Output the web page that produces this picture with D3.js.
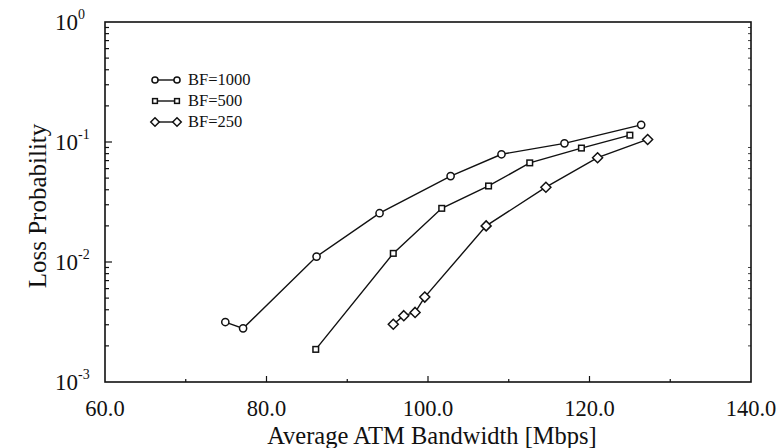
<!DOCTYPE html>
<html><head><meta charset="utf-8">
<script src="https://cdn.jsdelivr.net/npm/d3@7"></script>
<style>body{margin:0;background:#fff}svg{display:block}text{font-family:"Liberation Serif","DejaVu Serif",serif;fill:#111}</style>
</head><body><svg id="c" width="778" height="448"></svg>
<script>
const seriesNames = ["BF=1000","BF=500","BF=250"];
const bf1000X = [74.9, 77.1, 86.2, 94.0, 102.8, 109.1, 116.9, 126.4];
const bf1000Y = [0.00316, 0.0028, 0.0111, 0.0255, 0.052, 0.079, 0.0975, 0.139];
const bf500X = [86.1, 95.7, 101.7, 107.5, 112.6, 119.0, 125.0];
const bf500Y = [0.00187, 0.0118, 0.028, 0.043, 0.067, 0.089, 0.114];
const bf250X = [95.7, 97.0, 98.4, 99.6, 107.2, 114.6, 121.0, 127.2];
const bf250Y = [0.00303, 0.00357, 0.0038, 0.0051, 0.020, 0.042, 0.074, 0.105];
const xTicks = [60, 80, 100, 120, 140];
const xMinor = [70, 90, 110, 130];
const yExps = [0, -1, -2, -3];

const svg = d3.select("#c");
const L=105, R=751, T=22, B=382;
const x = d3.scaleLinear().domain([60,140]).range([L,R]);
const y = d3.scaleLog().domain([1e-3,1]).range([B,T]);

svg.append("rect").attr("x",L).attr("y",T).attr("width",R-L).attr("height",B-T)
  .attr("fill","none").attr("stroke","#111").attr("stroke-width",1.6);

const g = svg.append("g").attr("stroke","#111").attr("stroke-width",1.2);
xTicks.slice(1,-1).forEach(v=>g.append("line").attr("x1",x(v)).attr("x2",x(v)).attr("y1",B).attr("y2",B-6));
xMinor.forEach(v=>g.append("line").attr("x1",x(v)).attr("x2",x(v)).attr("y1",B).attr("y2",B-3));
yExps.forEach(e=>{
  if(e<0 && e>-3) g.append("line").attr("x1",L).attr("x2",L+7).attr("y1",y(Math.pow(10,e))).attr("y2",y(Math.pow(10,e)));
  if(e>-3){ for(let k=2;k<=9;k++){const v=k*Math.pow(10,e-1);
    g.append("line").attr("x1",L).attr("x2",L+4).attr("y1",y(v)).attr("y2",y(v));
    g.append("line").attr("x1",R).attr("x2",R-3).attr("y1",y(v)).attr("y2",y(v)).attr("stroke-width",0.8);}}
});

xTicks.forEach(v=>svg.append("text").attr("x",x(v)).attr("y",416).attr("text-anchor","middle")
  .attr("font-size",22.5).text(v.toFixed(1)));
yExps.forEach(e=>{
  const t=svg.append("text").attr("x",55).attr("y",y(Math.pow(10,e))+8).attr("font-size",23);
  t.append("tspan").text("10");
  t.append("tspan").attr("dy",-11).attr("font-size",14).text(e);
});
svg.append("text").attr("x",432).attr("y",444).attr("text-anchor","middle").attr("font-size",24.5)
  .text("Average ATM Bandwidth [Mbps]");
svg.append("text").attr("transform",`translate(46,206) rotate(-90)`).attr("text-anchor","middle")
  .attr("font-size",25).text("Loss Probability");

const series=[
  {name:seriesNames[0],xs:bf1000X,ys:bf1000Y,sym:"circle"},
  {name:seriesNames[1],xs:bf500X,ys:bf500Y,sym:"square"},
  {name:seriesNames[2],xs:bf250X,ys:bf250Y,sym:"diamond"}];
function marker(sel,sym,cx,cy,sc){
  sc=sc||1;
  if(sym==="circle") sel.append("circle").attr("cx",cx).attr("cy",cy).attr("r",3.6*sc)
    .attr("fill","#fff").attr("stroke","#111").attr("stroke-width",1.5);
  else if(sym==="square") sel.append("rect").attr("x",cx-2.8*sc).attr("y",cy-2.8*sc).attr("width",5.6*sc).attr("height",5.6*sc)
    .attr("fill","#fff").attr("stroke","#111").attr("stroke-width",1.5);
  else { const r=5*sc; sel.append("path").attr("d",`M${cx},${cy-r}L${cx+r},${cy}L${cx},${cy+r}L${cx-r},${cy}Z`)
    .attr("fill","#fff").attr("stroke","#111").attr("stroke-width",1.5);}
}
const line=d3.line().x(d=>x(d[0])).y(d=>y(d[1]));
series.forEach(s=>{
  const pts=s.xs.map((v,i)=>[v,s.ys[i]]);
  svg.append("path").attr("d",line(pts)).attr("fill","none").attr("stroke","#111").attr("stroke-width",1.4);
  const mg=svg.append("g");
  pts.forEach(p=>marker(mg,s.sym,x(p[0]),y(p[1])));
});
series.forEach((s,i)=>{
  const ly=80+i*21;
  svg.append("line").attr("x1",155).attr("x2",177).attr("y1",ly).attr("y2",ly).attr("stroke","#111").attr("stroke-width",1.4);
  marker(svg,s.sym,155,ly,0.85); marker(svg,s.sym,177,ly,0.85);
  svg.append("text").attr("x",188).attr("y",ly+5).attr("font-size",16.5).text(s.name);
});
</script></body></html>
